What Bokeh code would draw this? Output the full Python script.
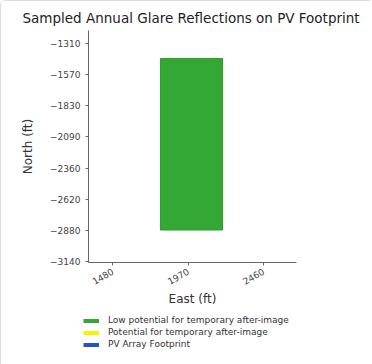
import math
from bokeh.plotting import figure
from bokeh.layouts import column, row
from bokeh.models import FixedTicker, Legend, LegendItem, Range1d
from bokeh.embed import file_html
from bokeh.resources import INLINE

east_ticks = [1480, 1970, 2460]
north_ticks = [-1310, -1570, -1830, -2090, -2360, -2620, -2880, -3140]
footprint_west = [1790]
footprint_east = [2194]
footprint_top = [-1438]
footprint_bottom = [-2875]
legend_labels = ["Low potential for temporary after-image",
                 "Potential for temporary after-image",
                 "PV Array Footprint"]
legend_colors = ["#34a834", "#f5f500", "#2453c8"]

FONT = "DejaVu Sans"

p = figure(frame_width=208, frame_height=232, output_backend="svg", toolbar_location=None,
           x_range=Range1d(1322, 2675), y_range=Range1d(-3147, -1204),
           min_border_left=87, min_border_right=74, min_border_top=29,
           min_border_bottom=0,
           title="Sampled Annual Glare Reflections on PV Footprint")
p.title.text_font = FONT
p.title.text_font_size = "13.5px"
p.title.text_font_style = "normal"
p.title.align = "left"
p.title.offset = -66
p.title.text_color = "#222222"

p.quad(left=footprint_west, right=footprint_east, top=footprint_top, bottom=footprint_bottom,
       fill_color=legend_colors[0], line_color="#2e9a2e", line_width=1)

p.xgrid.visible = False
p.ygrid.visible = False
p.outline_line_color = None

p.xaxis.ticker = FixedTicker(ticks=east_ticks)
p.yaxis.ticker = FixedTicker(ticks=north_ticks)
p.xaxis.axis_label = "East (ft)"
p.yaxis.axis_label = "North (ft)"
for ax in (p.xaxis, p.yaxis):
    ax.axis_label_text_font = FONT
    ax.axis_label_text_font_size = "12px"
    ax.axis_label_text_font_style = "normal"
    ax.axis_label_text_color = "#333333"
    ax.major_label_text_font = FONT
    ax.major_label_text_font_size = "9px"
    ax.major_label_text_color = "#444444"
    ax.axis_line_color = "#666666"
    ax.major_tick_line_color = "#666666"
    ax.minor_tick_line_color = None
    ax.major_tick_in = 0
    ax.major_tick_out = 3
p.xaxis.major_label_orientation = math.pi / 6
p.xaxis.axis_label_standoff = 1
p.yaxis.axis_label_standoff = 12

# legend strip below the chart
q = figure(width=360, height=58, output_backend="svg", toolbar_location=None,
           x_range=Range1d(0, 1), y_range=Range1d(0, 1),
           x_axis_type=None, y_axis_type=None, min_border=0)
q.xgrid.visible = False
q.ygrid.visible = False
q.outline_line_color = None

items = []
for lab, col in zip(legend_labels, legend_colors):
    r = q.line(x=[-5, -4], y=[-5, -4], line_color=col, line_width=4)
    items.append(LegendItem(label=lab, renderers=[r]))

legend = Legend(items=items, location=(82, 18), orientation="vertical",
                label_text_font=FONT, label_text_font_size="9px",
                label_text_color="#333333", glyph_width=16, glyph_height=5,
                label_height=9, label_standoff=9, spacing=2, padding=2, margin=0,
                border_line_color=None, background_fill_alpha=0)
q.add_layout(legend, "center")

page = column(p, row(q), spacing=0)
page.styles = {"border-left": "1px solid #dcdcdc", "border-top": "1px solid #dcdcdc",
               "border-top-left-radius": "6px"}

open("out.html", "w").write(file_html(page, INLINE))
